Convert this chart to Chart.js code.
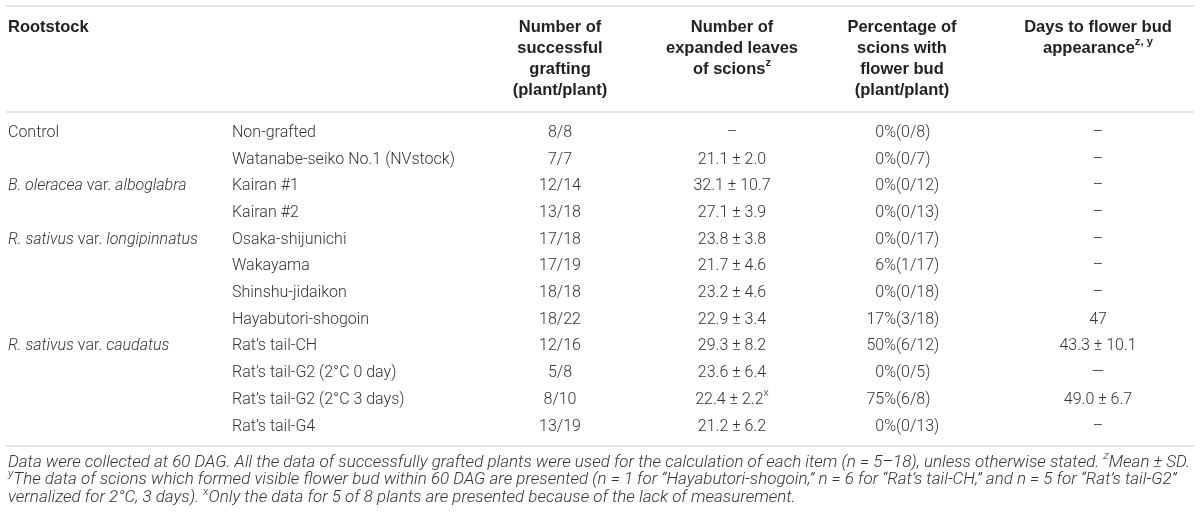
<!DOCTYPE html>
<html>
<head>
<meta charset="utf-8">
<script src="https://cdn.jsdelivr.net/npm/chart.js@4.4.1/dist/chart.umd.min.js"></script>
<style>
  html, body { margin: 0; padding: 0; background: #fff; }
  #table { display: block; }
</style>
</head>
<body>
<canvas id="table" width="1200" height="520"></canvas>
<script>
// === Table data (one entry per row) ===
// _text_ = italic, ^{x} = superscript
const rootstockGroups = [
    'Control', '',
    '_B. oleracea_ var. _alboglabra_', '',
    '_R. sativus_ var. _longipinnatus_', '', '', '',
    '_R. sativus_ var. _caudatus_', '', '', ''
];
const cultivars = [
    'Non-grafted', 'Watanabe-seiko No.1 (NVstock)', 'Kairan #1', 'Kairan #2',
    'Osaka-shijunichi', 'Wakayama', 'Shinshu-jidaikon', 'Hayabutori-shogoin',
    'Rat\u2019s tail-CH', 'Rat\u2019s tail-G2 (2\u00B0C 0 day)', 'Rat\u2019s tail-G2 (2\u00B0C 3 days)', 'Rat\u2019s tail-G4'
];
const graftingSuccess = ['8/8', '7/7', '12/14', '13/18', '17/18', '17/19', '18/18', '18/22', '12/16', '5/8', '8/10', '13/19'];
const expandedLeaves = ['\u2013', '21.1 \u00B1 2.0', '32.1 \u00B1 10.7', '27.1 \u00B1 3.9', '23.8 \u00B1 3.8', '21.7 \u00B1 4.6',
    '23.2 \u00B1 4.6', '22.9 \u00B1 3.4', '29.3 \u00B1 8.2', '23.6 \u00B1 6.4', '22.4 \u00B1 2.2^{x}', '21.2 \u00B1 6.2'];
const floweringScions = ['0%(0/8)', '0%(0/7)', '0%(0/12)', '0%(0/13)', '0%(0/17)', '6%(1/17)',
    '0%(0/18)', '17%(3/18)', '50%(6/12)', '0%(0/5)', '75%(6/8)', '0%(0/13)'];
const daysToBud = ['\u2013', '\u2013', '\u2013', '\u2013', '\u2013', '\u2013', '\u2013', '47', '43.3 \u00B1 10.1', '\u2014', '49.0 \u00B1 6.7', '\u2013'];

const headerLabels = [
    ['Rootstock'],
    [],
    ['Number of', 'successful', 'grafting', '(plant/plant)'],
    ['Number of', 'expanded leaves', 'of scions^{z}'],
    ['Percentage of', 'scions with', 'flower bud', '(plant/plant)'],
    ['Days to flower bud', 'appearance^{z, y}']
];
const footnoteLines = [
    'Data were collected at 60 DAG. All the data of successfully grafted plants were used for the calculation of each item (n = 5\u201318), unless otherwise stated. ^{z}Mean \u00B1 SD.',
    '^{y}The data of scions which formed visible flower bud within 60 DAG are presented (n = 1 for \u201CHayabutori-shogoin,\u201D n = 6 for \u201CRat\u2019s tail-CH,\u201D and n = 5 for \u201CRat\u2019s tail-G2\u201D',
    'vernalized for 2\u00B0C, 3 days). ^{x}Only the data for 5 of 8 plants are presented because of the lack of measurement.'
];

const columns = [rootstockGroups, cultivars, graftingSuccess, expandedLeaves, floweringScions, daysToBud];

// === Layout (pixels) ===
const colAnchor = [8, 232, 560, 732, 896, 1098];
const colAlign = ['left', 'left', 'center', 'center', 'paren', 'center'];
const headerAnchor = [8, 232, 560, 732, 902, 1098];
const headerAlign = ['left', 'left', 'center', 'center', 'center', 'center'];
const ruleColor = '#dcdcdc';
const bodyFont = { size: 16, weight: 300, family: 'Roboto, "Liberation Sans", sans-serif', color: '#333333' };
const headFont = { size: 16.5, weight: 700, family: '"Liberation Sans", Arial, sans-serif', color: '#222222' };
const noteFont = { size: 16, weight: 300, family: 'Roboto, "Liberation Sans", sans-serif', color: '#333333', italic: true };

function parseRich(str) {
    const segs = [];
    let italic = false, buf = '';
    const flush = () => { if (buf) segs.push({ t: buf, i: italic, sup: false }); buf = ''; };
    for (let k = 0; k < str.length; k++) {
        const ch = str[k];
        if (ch === '_') { flush(); italic = !italic; }
        else if (ch === '^' && str[k + 1] === '{') {
            flush();
            const end = str.indexOf('}', k);
            segs.push({ t: str.slice(k + 2, end), i: italic, sup: true });
            k = end;
        } else buf += ch;
    }
    flush();
    return segs;
}

function fontFor(seg, f) {
    const it = (seg.i !== !!f.italic) ? 'italic ' : '';
    const size = seg.sup ? f.size * 0.68 : f.size;
    return it + f.weight + ' ' + size + 'px ' + f.family;
}

function richWidth(ctx, segs, f) {
    let w = 0;
    segs.forEach(s => { ctx.font = fontFor(s, f); w += ctx.measureText(s.t).width; });
    return w;
}

function drawSegs(ctx, segs, x, y, f) {
    ctx.fillStyle = f.color;
    ctx.textBaseline = 'middle';
    ctx.textAlign = 'left';
    segs.forEach(s => {
        ctx.font = fontFor(s, f);
        ctx.fillText(s.t, x, s.sup ? y - f.size * 0.38 : y);
        x += ctx.measureText(s.t).width;
    });
}

function drawRich(ctx, str, x, y, align, f) {
    if (!str) return;
    if (align === 'paren') {
        // percentages line up on the opening parenthesis
        const p = str.indexOf('(');
        const left = parseRich(str.slice(0, p));
        drawSegs(ctx, left, x - richWidth(ctx, left, f), y, f);
        drawSegs(ctx, parseRich(str.slice(p)), x, y, f);
        return;
    }
    const segs = parseRich(str);
    const w = richWidth(ctx, segs, f);
    let sx = x;
    if (align === 'center') sx = x - w / 2;
    else if (align === 'right') sx = x - w;
    drawSegs(ctx, segs, sx, y, f);
}

function hRule(ctx, y) {
    ctx.strokeStyle = ruleColor;
    ctx.lineWidth = 1.5;
    ctx.beginPath();
    ctx.moveTo(6, y);
    ctx.lineTo(1194, y);
    ctx.stroke();
}

const tablePlugin = {
    id: 'tableText',
    afterDatasetsDraw(chart) {
        const ctx = chart.ctx;
        const area = chart.chartArea;
        ctx.save();
        hRule(ctx, 6);
        hRule(ctx, area.top);
        hRule(ctx, area.bottom);
        // header
        headerLabels.forEach((lines, c) => {
            lines.forEach((line, k) => {
                drawRich(ctx, line, headerAnchor[c], 27 + 21 * k, headerAlign[c], headFont);
            });
        });
        // body cells sit on the points placed by the chart's scales
        chart.data.datasets.forEach((ds, c) => {
            chart.getDatasetMeta(c).data.forEach((pt, r) => {
                drawRich(ctx, columns[c][r], pt.x, pt.y, colAlign[c], bodyFont);
            });
        });
        // footnotes, first line spans the table width
        const w1 = richWidth(ctx, parseRich(footnoteLines[0]), noteFont);
        const fit = 1182 / w1;
        ctx.save();
        ctx.translate(8, 0);
        ctx.scale(fit, 1);
        footnoteLines.forEach((line, k) => {
            drawRich(ctx, line, 0, area.bottom + 16.5 + 17.7 * k, 'left', noteFont);
        });
        ctx.restore();
        ctx.restore();
    }
};

new Chart(document.getElementById('table'), {
    type: 'scatter',
    data: {
        datasets: columns.map((col, c) => ({
            label: 'col' + c,
            data: col.map((_, r) => ({ x: colAnchor[c], y: r })),
            pointRadius: 0,
            pointHoverRadius: 0
        }))
    },
    options: {
        responsive: false,
        animation: false,
        events: [],
        layout: { padding: { top: 112, bottom: 74, left: 0, right: 0 } },
        plugins: { legend: { display: false }, tooltip: { enabled: false } },
        scales: {
            x: { type: 'linear', min: 0, max: 1200, display: false },
            y: { type: 'linear', reverse: true, min: -0.79, max: 11.73, display: false }
        }
    },
    plugins: [tablePlugin]
});
</script>
</body>
</html>
